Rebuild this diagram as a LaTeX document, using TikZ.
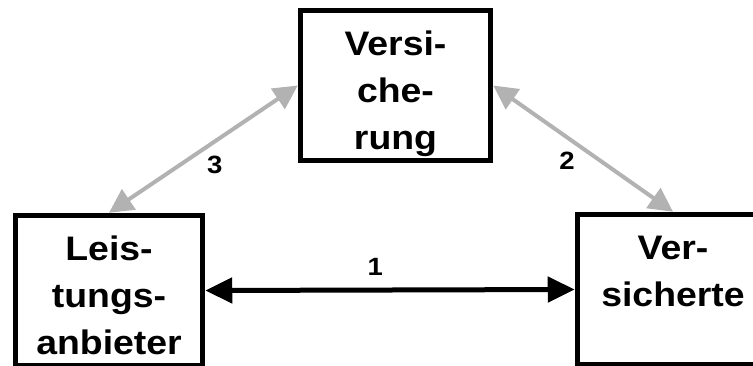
\documentclass[tikz,border=0pt]{standalone}
\usepackage{fontspec}
\newfontfamily\partyfont[FakeStretch=1.1]{Liberation Sans}
\usetikzlibrary{arrows.meta}

\tikzset{
  party/.style={draw, line width=5.5pt, minimum height=150pt, inner sep=0pt,
    text width=170pt, align=center, text height=24pt, text depth=84pt,
    font=\partyfont\bfseries\fontsize{34}{47}\selectfont},
  link/.style={<->, line width=4pt, black!30},
  num/.style={text=black, font=\partyfont\bfseries\fontsize{25}{25}\selectfont}
}

\begin{document}
\begin{tikzpicture}[x=1pt, y=-1pt, >={Triangle[length=24pt, width=24pt]}]
    \path[use as bounding box, clip] (0,0) rectangle (753,365);

    % Parties
    \node[party, minimum width=190pt] (vers) at (395.5,85.5) {Versi-\\che-\\rung};
    \node[party, minimum width=187pt] (lb) at (109,290.5) {Leis-\\tungs-\\anbieter};
    \node[party, minimum width=191pt] (vs) at (673,289.5) {Ver-\\sicherte};

    % Relations
    \draw[<->, line width=5pt, >={Triangle[length=27pt, width=25pt]}] (lb.east) -- (vs.west)
        node[num, pos=0.46, yshift=23pt] {1};
    \draw[link] (vers.east) -- (vs.north) node[num, pos=0.41, yshift=-24pt] {2};
    \draw[link] (lb.north) -- (vers.west) node[num, pos=0.56, yshift=-23pt] {3};
\end{tikzpicture}
\end{document}
